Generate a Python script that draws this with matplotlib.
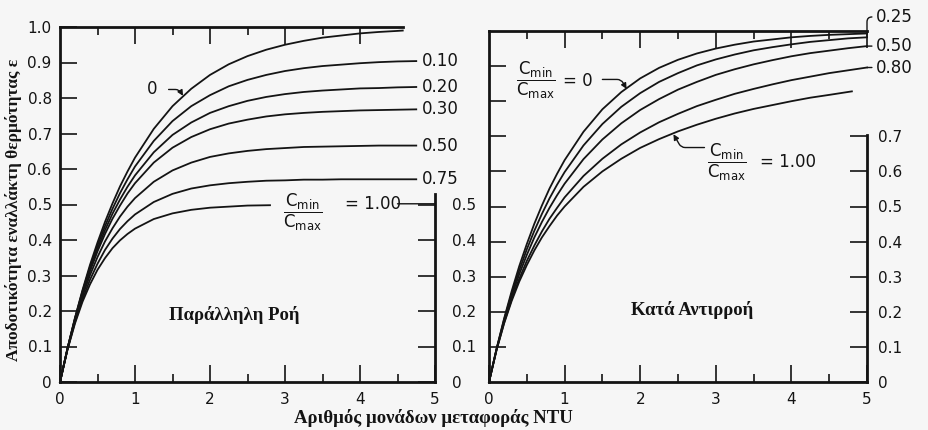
import matplotlib
matplotlib.use("Agg")
import matplotlib.pyplot as plt
from matplotlib.ticker import FixedLocator, FuncFormatter

# ---------------- data ----------------
# Parallel flow (left panel)
ntu_par = [0, 0.1, 0.2, 0.3, 0.4, 0.5, 0.6, 0.7, 0.8, 0.9, 1.0, 1.25, 1.5, 1.75, 2.0,
           2.25, 2.5, 2.75, 3.0, 3.25, 3.5, 3.75, 4.0, 4.25, 4.5, 4.75]
ntu_par_c000 = [0, 0.1, 0.2, 0.3, 0.4, 0.5, 0.6, 0.7, 0.8, 0.9, 1.0, 1.25, 1.5, 1.75, 2.0,
                2.25, 2.5, 2.75, 3.0, 3.25, 3.5, 3.75, 4.0, 4.25, 4.5, 4.57]
par_c000 = [0, .095, .181, .259, .330, .393, .451, .503, .551, .593, .632, .713, .777, .826, .865,
            .895, .918, .936, .950, .961, .970, .976, .982, .986, .989, .990]
par_c010 = [0, .095, .180, .256, .324, .385, .439, .488, .532, .571, .607, .679, .735, .777, .808,
            .833, .851, .865, .876, .884, .890, .894, .898, .901, .903, .904]
par_c020 = [0, .094, .178, .252, .318, .376, .428, .474, .514, .550, .582, .647, .696, .731, .758,
            .777, .792, .803, .811, .817, .821, .824, .827, .828, .830, .831]
par_c030 = [0, .094, .176, .248, .312, .368, .417, .460, .497, .531, .560, .618, .660, .690, .712,
            .728, .739, .748, .754, .758, .761, .763, .765, .766, .767, .768]
par_c050 = [0, .093, .173, .242, .301, .352, .396, .433, .466, .494, .518, .564, .596, .618, .634,
            .644, .651, .656, .659, .662, .663, .664, .665, .666, .666, .666]
par_c075 = [0, .092, .169, .233, .288, .333, .372, .404, .431, .453, .472, .507, .530, .545, .554,
            .560, .564, .567, .568, .570, .570, .571, .571, .571, .571, .571]
ntu_par_c100 = [0, 0.1, 0.2, 0.3, 0.4, 0.5, 0.6, 0.7, 0.8, 0.9, 1.0, 1.25, 1.5, 1.75, 2.0,
                2.25, 2.5, 2.8]
par_c100 = [0, .091, .165, .226, .275, .316, .349, .377, .399, .417, .432, .459, .475, .485, .491,
            .494, .497, .498]
par_labels = ["0.10", "0.20", "0.30", "0.50", "0.75"]

# Counterflow (right panel)
ntu_cnt = [0, 0.1, 0.2, 0.3, 0.4, 0.5, 0.6, 0.7, 0.8, 0.9, 1.0, 1.25, 1.5, 1.75, 2.0,
           2.25, 2.5, 2.75, 3.0, 3.25, 3.5, 3.75, 4.0, 4.25, 4.5, 4.75, 5.0]
cnt_c000 = [0, .095, .181, .259, .330, .393, .451, .503, .551, .593, .632, .713, .777, .826, .865,
            .895, .918, .936, .950, .961, .970, .976, .982, .986, .989, .991, .993]
cnt_c025 = [0, .094, .178, .252, .318, .378, .431, .479, .523, .562, .598, .674, .735, .784, .823,
            .855, .880, .902, .919, .933, .945, .954, .962, .969, .974, .979, .982]
cnt_c050 = [0, .093, .174, .245, .307, .362, .412, .456, .496, .532, .565, .635, .691, .737, .775,
            .806, .833, .855, .875, .891, .905, .917, .928, .937, .944, .951, .957]
cnt_c080 = [0, .092, .169, .236, .294, .345, .389, .429, .465, .496, .526, .587, .636, .677, .711,
            .740, .764, .786, .804, .821, .835, .848, .860, .870, .880, .888, .896]
ntu_cnt_c100 = [0, 0.1, 0.2, 0.3, 0.4, 0.5, 0.6, 0.7, 0.8, 0.9, 1.0, 1.25, 1.5, 1.75, 2.0,
                2.25, 2.5, 2.75, 3.0, 3.25, 3.5, 3.75, 4.0, 4.25, 4.5, 4.8]
cnt_c100 = [0, .091, .167, .231, .286, .333, .375, .412, .444, .474, .500, .556, .600, .636, .667,
            .692, .714, .733, .750, .765, .778, .789, .800, .810, .818, .828]

x_ticks = [0, 1, 2, 3, 4, 5]
x_minor = [0.5, 1.5, 2.5, 3.5, 4.5]
y_ticks_left = [0, 0.1, 0.2, 0.3, 0.4, 0.5, 0.6, 0.7, 0.8, 0.9, 1.0]
y_ticks_mid = [0, 0.1, 0.2, 0.3, 0.4, 0.5]
y_ticks_right = [0, 0.1, 0.2, 0.3, 0.4, 0.5, 0.6, 0.7]

# ---------------- style ----------------
BG = "#f6f6f6"
INK = "#141414"
plt.rcParams["font.family"] = ["DejaVu Sans"]
plt.rcParams["mathtext.fontset"] = "custom"
plt.rcParams["mathtext.rm"] = "DejaVu Sans"
plt.rcParams["mathtext.it"] = "DejaVu Sans"
SERIF = ["Liberation Serif", "DejaVu Serif"]
SPINE_LW = 2.0
CURVE_LW = 1.3
TICK_FS = 11
LAB_FS = 12

fig = plt.figure(figsize=(9.29, 4.30), dpi=100, facecolor=BG)

W, H = 929.0, 430.0
def rect(x0, x1, ytop, ybot):
    return [x0 / W, 1 - ybot / H, (x1 - x0) / W, (ybot - ytop) / H]

fmt = FuncFormatter(lambda v, p: "0" if abs(v) < 1e-9 else f"{v:.1f}")
xfmt = FuncFormatter(lambda v, p: f"{int(round(v))}")

def base_axes(r):
    ax = fig.add_axes(r)
    ax.set_facecolor("none")
    ax.set_xlim(0, 5)
    ax.set_ylim(0, 1.0)
    for s in ["top", "right"]:
        ax.spines[s].set_visible(False)
    for s in ["left", "bottom"]:
        ax.spines[s].set_linewidth(SPINE_LW)
        ax.spines[s].set_color(INK)
    ax.xaxis.set_major_locator(FixedLocator(x_ticks))
    ax.xaxis.set_minor_locator(FixedLocator(x_minor))
    ax.xaxis.set_major_formatter(xfmt)
    ax.tick_params(axis="x", which="major", direction="in", length=12, width=1.2,
                   colors=INK, labelsize=TICK_FS, pad=7)
    ax.tick_params(axis="x", which="minor", direction="in", length=6, width=1.2, colors=INK)
    ax.tick_params(axis="y", which="major", direction="in", length=12, width=1.2,
                   colors=INK, labelsize=TICK_FS, pad=6)
    return ax

def twin_top(ax, major, minor, xmax):
    t = ax.twiny()
    t.set_xlim(0, 5)
    t.set_facecolor("none")
    for s in ["left", "right", "bottom"]:
        t.spines[s].set_visible(False)
    t.spines["top"].set_linewidth(SPINE_LW)
    t.spines["top"].set_color(INK)
    t.spines["top"].set_bounds(0, xmax)
    t.xaxis.set_major_locator(FixedLocator(major))
    t.xaxis.set_minor_locator(FixedLocator(minor))
    t.tick_params(axis="x", which="major", direction="in", length=12, width=1.2,
                  colors=INK, labeltop=False)
    t.tick_params(axis="x", which="minor", direction="in", length=6, width=1.2, colors=INK)
    return t

def twin_right(ax, ticks, ymax, pad):
    t = ax.twinx()
    t.set_ylim(0, 1.0)
    t.set_facecolor("none")
    for s in ["left", "top", "bottom"]:
        t.spines[s].set_visible(False)
    t.spines["right"].set_linewidth(SPINE_LW)
    t.spines["right"].set_color(INK)
    t.spines["right"].set_bounds(0, ymax)
    t.yaxis.set_major_locator(FixedLocator(ticks))
    t.yaxis.set_major_formatter(fmt)
    t.tick_params(axis="y", which="major", direction="in", length=12, width=1.2,
                  colors=INK, labelsize=TICK_FS, pad=pad)
    return t

def frac(ax, x, y, fs=LAB_FS):
    ax.text(x, y, r"$\dfrac{\mathrm{C_{min}}}{\mathrm{C_{max}}}$", fontsize=fs,
            ha="center", va="center", color=INK)

# ---------------- left panel: parallel flow ----------------
axL = base_axes(rect(60, 435, 27, 382))
axL.yaxis.set_major_locator(FixedLocator(y_ticks_left))
axL.yaxis.set_major_formatter(fmt)
twin_top(axL, [1, 2, 3, 4], [0.5, 1.5, 2.5, 3.5], 4.57)
twin_right(axL, y_ticks_mid, 0.53, 12)

axL.plot(ntu_par_c000, par_c000, color=INK, lw=CURVE_LW, clip_on=False)
for vals in [par_c010, par_c020, par_c030, par_c050, par_c075]:
    axL.plot(ntu_par, vals, color=INK, lw=CURVE_LW, clip_on=False)
axL.plot(ntu_par_c100, par_c100, color=INK, lw=CURVE_LW, clip_on=False)

for lab, vals in zip(par_labels, [par_c010, par_c020, par_c030, par_c050, par_c075]):
    axL.text(ntu_par[-1] + 0.08, vals[-1], lab, fontsize=LAB_FS, ha="left",
             va="center", color=INK, clip_on=False)

axL.annotate("0", xy=(1.64, 0.806), xytext=(1.23, 0.824), fontsize=LAB_FS,
             ha="center", va="center", color=INK,
             arrowprops=dict(arrowstyle="-|>", color=INK, lw=1.0, mutation_scale=8,
                             shrinkA=6, shrinkB=0,
                             connectionstyle="angle,angleA=0,angleB=-60,rad=4"))

frac(axL, 3.24, 0.479)
axL.text(3.80, 0.502, "= 1.00", fontsize=LAB_FS, ha="left", va="center", color=INK)
axL.annotate("", xy=(5.0, 0.502), xytext=(4.50, 0.502),
             arrowprops=dict(arrowstyle="-", color=INK, lw=1.0, shrinkA=0, shrinkB=0))

axL.text(2.32, 0.19, "Παράλληλη Ροή", family=SERIF, fontweight="bold",
         fontsize=13.5, ha="center", va="center", color=INK)

# ---------------- right panel: counterflow ----------------
axR = base_axes(rect(489, 867, 31, 382))
axR.yaxis.set_major_locator(FixedLocator(y_ticks_left[1:-1]))
axR.tick_params(axis="y", labelleft=False)
twin_top(axR, [1, 2, 3, 4, 5], [0.5, 1.5, 2.5, 3.5, 4.5], 5.0)
twin_right(axR, y_ticks_right, 0.705, 8)

for vals in [cnt_c000, cnt_c025, cnt_c050, cnt_c080]:
    axR.plot(ntu_cnt, vals, color=INK, lw=CURVE_LW, clip_on=False)
axR.plot(ntu_cnt_c100, cnt_c100, color=INK, lw=CURVE_LW, clip_on=False)

frac(axR, 0.62, 0.86)
axR.text(0.98, 0.857, "= 0", fontsize=LAB_FS, ha="left", va="center", color=INK)
axR.annotate("", xy=(1.82, 0.835), xytext=(1.50, 0.862),
             arrowprops=dict(arrowstyle="-|>", color=INK, lw=1.0, mutation_scale=8,
                             shrinkA=0, shrinkB=0,
                             connectionstyle="angle,angleA=0,angleB=-60,rad=4"))

frac(axR, 3.15, 0.626)
axR.text(3.58, 0.626, "= 1.00", fontsize=LAB_FS, ha="left", va="center", color=INK)
axR.annotate("", xy=(2.44, 0.706), xytext=(2.85, 0.668),
             arrowprops=dict(arrowstyle="-|>", color=INK, lw=1.0, mutation_scale=8,
                             shrinkA=0, shrinkB=0,
                             connectionstyle="angle,angleA=180,angleB=-60,rad=4"))

axR.annotate("0.25", xy=(5.0, cnt_c025[-1]), xytext=(5.12, 1.04), fontsize=LAB_FS,
             ha="left", va="center", color=INK, annotation_clip=False,
             arrowprops=dict(arrowstyle="-", color=INK, lw=1.0, shrinkA=1, shrinkB=0,
                             connectionstyle="angle,angleA=180,angleB=90,rad=5"))
axR.annotate("0.50", xy=(5.0, cnt_c050[-1]), xytext=(5.12, cnt_c050[-1]), fontsize=LAB_FS,
             ha="left", va="center", color=INK, annotation_clip=False,
             arrowprops=dict(arrowstyle="-", color=INK, lw=1.0, shrinkA=1, shrinkB=0))
axR.annotate("0.80", xy=(5.0, cnt_c080[-1]), xytext=(5.12, cnt_c080[-1]), fontsize=LAB_FS,
             ha="left", va="center", color=INK, annotation_clip=False,
             arrowprops=dict(arrowstyle="-", color=INK, lw=1.0, shrinkA=1, shrinkB=0))

axR.text(2.69, 0.205, "Κατά Αντιρροή", family=SERIF, fontweight="bold",
         fontsize=13.5, ha="center", va="center", color=INK)

# ---------------- shared labels ----------------
fig.text(14 / W, 1 - 210 / H, "Αποδοτικότητα εναλλάκτη θερμότητας ε", family=SERIF,
         fontweight="bold", fontsize=12.5, rotation=90, ha="center", va="center", color=INK)
fig.text(433 / W, 1 - 418 / H, "Αριθμός μονάδων μεταφοράς NTU", family=SERIF,
         fontweight="bold", fontsize=13.5, ha="center", va="center", color=INK)

fig.savefig("out.png", dpi=100, facecolor=BG)
